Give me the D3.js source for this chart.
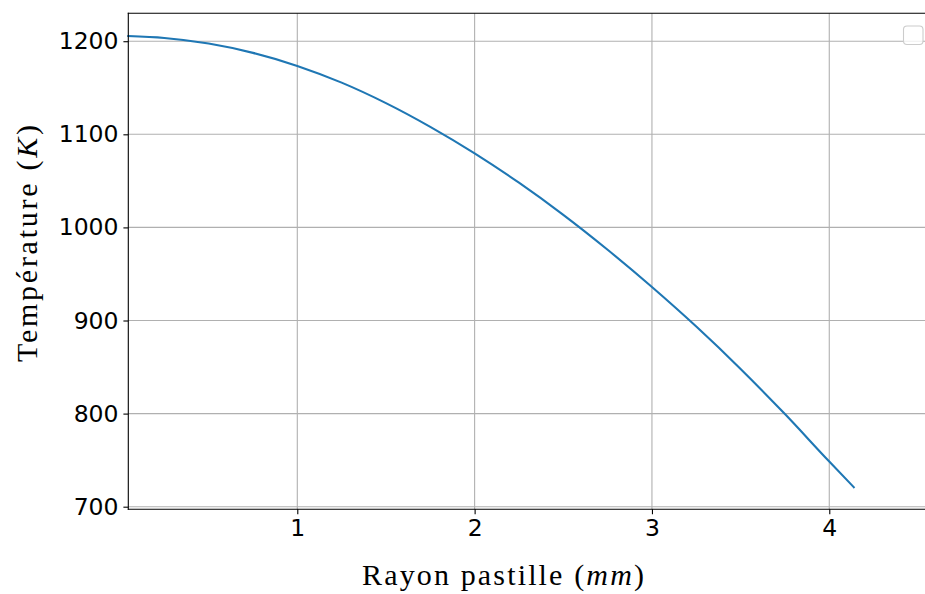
<!DOCTYPE html>
<html>
<head>
<meta charset="utf-8">
<script src="https://cdn.jsdelivr.net/npm/d3@7"></script>
<style>
  html, body { margin: 0; padding: 0; background: #fff; }
  svg { display: block; }
</style>
</head>
<body>
<svg id="chart" width="925" height="594"></svg>
<script>
// Data
const radius = [0.047, 0.25, 0.5, 0.75, 1.0, 1.25, 1.5, 1.75, 2.0, 2.25, 2.5, 2.75, 3.0, 3.25, 3.5, 3.75, 4.0, 4.138];
const temperature = [1205.5, 1203.5, 1197.5, 1187.5, 1173.5, 1155.5, 1133.5, 1108, 1079.5, 1048, 1013.5, 976, 936, 893.5, 848, 799.5, 748.5, 721];
const xTicks = [1, 2, 3, 4];
const yTicks = [700, 800, 900, 1000, 1100, 1200];
const xLabel = "Rayon pastille (";
const xLabelItalic = "mm";
const yLabel = "Température (";
const yLabelItalic = "K";

(function () {
const svg = d3.select("#chart");
const pLeft = 128.3, pRight = 930, pTop = 13.2, pBottom = 509.3;

const x = d3.scaleLinear().domain([0.047, 4.568]).range([pLeft, pRight]);
const y = d3.scaleLinear().domain([697.2, 1230.1]).range([pBottom, pTop]);

const grid = svg.append("g");
grid.selectAll("line.gx").data(xTicks).join("line")
  .attr("class", "gx")
  .attr("x1", d => x(d)).attr("x2", d => x(d))
  .attr("y1", pTop).attr("y2", pBottom)
  .attr("stroke", "#b0b0b0").attr("stroke-width", 1.1);
grid.selectAll("line.gy").data(yTicks).join("line")
  .attr("class", "gy")
  .attr("x1", pLeft).attr("x2", pRight)
  .attr("y1", d => y(d)).attr("y2", d => y(d))
  .attr("stroke", "#b0b0b0").attr("stroke-width", 1.1);

// Line
const line = d3.line().x((d, i) => x(radius[i])).y(d => y(d)).curve(d3.curveMonotoneX);
svg.append("path").datum(temperature)
  .attr("d", line)
  .attr("fill", "none")
  .attr("stroke", "#1f77b4")
  .attr("stroke-width", 2.1)
  .attr("stroke-linecap", "square");

// Axes
const xAxis = d3.axisBottom(x).tickValues(xTicks).tickSize(4.9).tickPadding(4.9).tickFormat(d3.format("d"));
const yAxis = d3.axisLeft(y).tickValues(yTicks).tickSize(4.9).tickPadding(4.9).tickFormat(d3.format("d"));

const gx = svg.append("g").attr("transform", `translate(0,${pBottom})`).call(xAxis);
const gy = svg.append("g").attr("transform", `translate(${pLeft},0)`).call(yAxis);
[gx, gy].forEach(g => {
  g.select(".domain").remove();
  g.selectAll(".tick line").attr("stroke", "#000").attr("stroke-width", 1.1);
  g.selectAll(".tick text")
    .attr("fill", "#000")
    .style("font-family", "'DejaVu Sans', sans-serif")
    .style("font-size", "23.5px");
});

// Spines
svg.append("line").attr("x1", pLeft).attr("x2", pLeft).attr("y1", pTop).attr("y2", pBottom)
  .attr("stroke", "#000").attr("stroke-width", 1.1).attr("stroke-linecap", "square");
svg.append("line").attr("x1", pLeft).attr("x2", pRight).attr("y1", pBottom).attr("y2", pBottom)
  .attr("stroke", "#000").attr("stroke-width", 1.1).attr("stroke-linecap", "square");
svg.append("line").attr("x1", pLeft).attr("x2", pRight).attr("y1", pTop).attr("y2", pTop)
  .attr("stroke", "#000").attr("stroke-width", 1.1).attr("stroke-linecap", "square");

// Empty legend box
svg.append("rect").attr("x", 903.5).attr("y", 26).attr("width", 19.5).attr("height", 18.5)
  .attr("rx", 3.5).attr("ry", 3.5)
  .attr("fill", "#fff").attr("fill-opacity", 0.8)
  .attr("stroke", "#cccccc").attr("stroke-width", 1.1);

// Axis labels
const labelFont = "'Liberation Serif', 'Times New Roman', serif";
const xl = svg.append("text")
  .attr("x", 362).attr("y", 585)
  .attr("textLength", 282).attr("lengthAdjust", "spacing")
  .style("font-family", labelFont).style("font-size", "30px").attr("fill", "#000");
xl.append("tspan").text(xLabel);
xl.append("tspan").style("font-style", "italic").text(xLabelItalic);
xl.append("tspan").text(")");

const yl = svg.append("text")
  .attr("transform", "translate(36.5,362) rotate(-90)")
  .attr("x", 0).attr("y", 0)
  .attr("textLength", 237).attr("lengthAdjust", "spacing")
  .style("font-family", labelFont).style("font-size", "30px").attr("fill", "#000");
yl.append("tspan").text(yLabel);
yl.append("tspan").style("font-style", "italic").text(yLabelItalic);
yl.append("tspan").text(")");
})();
</script>
</body>
</html>
